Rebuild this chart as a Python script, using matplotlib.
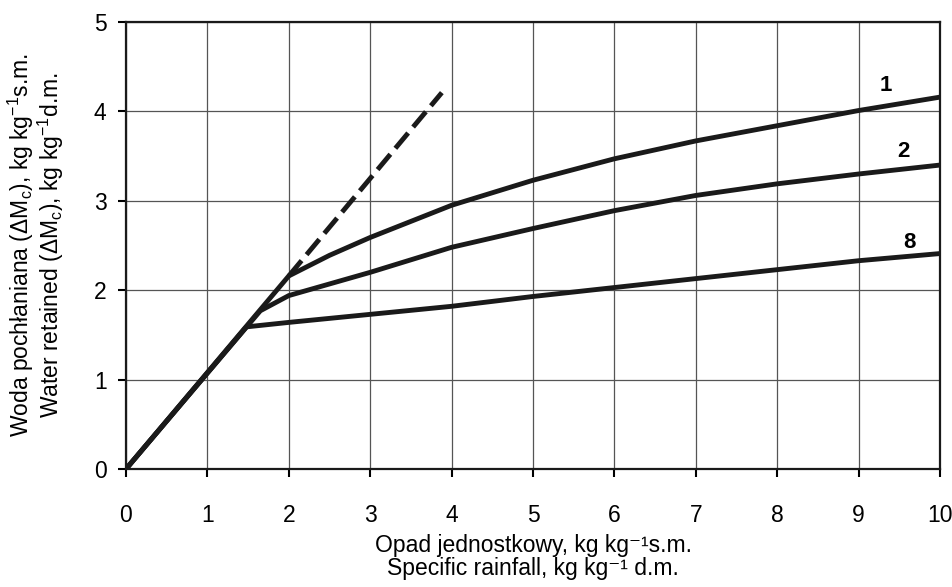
import matplotlib.pyplot as plt

plt.rcParams['font.family'] = ['Liberation Sans', 'DejaVu Sans']
plt.rcParams['mathtext.default'] = 'regular'

# curve 1
x1 = [0, 2.0, 2.5, 3, 4, 5, 6, 7, 8, 9, 10]
y1 = [0, 2.16, 2.39, 2.59, 2.95, 3.23, 3.47, 3.67, 3.84, 4.01, 4.16]
# curve 2
x2 = [0, 1.65, 2, 2.5, 3, 4, 5, 6, 7, 8, 9, 10]
y2 = [0, 1.77, 1.94, 2.07, 2.20, 2.48, 2.69, 2.89, 3.06, 3.19, 3.30, 3.40]
# curve 8
x8 = [0, 1.48, 2, 3, 4, 5, 6, 7, 8, 9, 10]
y8 = [0, 1.59, 1.64, 1.73, 1.82, 1.93, 2.03, 2.13, 2.23, 2.33, 2.41]
# dashed extension
xd = [2.0, 3.88]
yd = [2.16, 4.21]

curve_labels = ['1', '2', '8']
label_x = [9.34, 9.55, 9.63]
label_y = [4.29, 3.55, 2.53]

fig = plt.figure(figsize=(9.53, 5.87), dpi=100)
ax = fig.add_axes([0.1322, 0.201, 0.8542, 0.7615])

lw = 3.5
for xs, ys in [(x1, y1), (x2, y2), (x8, y8)]:
    ax.plot(xs, ys, color='#1a1a1a', lw=lw, solid_joinstyle='round', zorder=3)
ax.plot(xd, yd, color='#1a1a1a', lw=lw, dashes=(4.1, 1.6), dash_capstyle='butt', zorder=3)

for t, lx, ly in zip(curve_labels, label_x, label_y):
    ax.text(lx, ly, t, fontsize=16, fontweight='bold', ha='center', va='center')

ax.set_xlim(0, 10)
ax.set_ylim(0, 5)
ax.set_xticks(range(0, 11))
ax.set_yticks(range(0, 6))
ax.grid(True, color='#555555', lw=0.9)
ax.set_axisbelow(True)
for s in ax.spines.values():
    s.set_linewidth(1.6)
    s.set_color('#1a1a1a')
ax.tick_params(direction='out', length=6, width=1.5, labelsize=16.5)
ax.tick_params(axis='x', pad=19)
ax.tick_params(axis='y', pad=8)

ax.set_xlabel('Opad jednostkowy, kg kg⁻¹s.m.\nSpecific rainfall, kg kg⁻¹ d.m.',
              fontsize=16.5, linespacing=1.0, va='top')
ax.xaxis.set_label_coords(0.5, -0.146)
ax.set_ylabel('Woda pochłaniana (ΔM$_c$), kg kg$^{-1}$s.m.\nWater retained (ΔM$_c$), kg kg$^{-1}$d.m.',
              fontsize=16.5, linespacing=1.0)
ax.yaxis.set_label_coords(-0.074, 0.5)

fig.savefig('out.png', dpi=100)
